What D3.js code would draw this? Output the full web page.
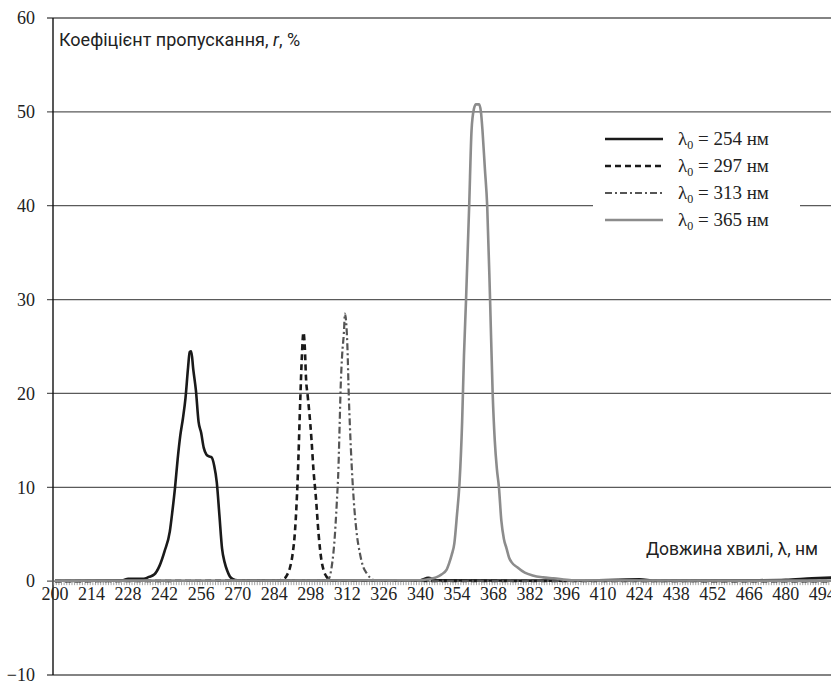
<!DOCTYPE html>
<html>
<head>
<meta charset="utf-8">
<script src="https://cdn.jsdelivr.net/npm/d3@7"></script>
<style>
  body { margin: 0; background: #fff; }
  svg { display: block; }
</style>
</head>
<body>
<div id="chart"></div>
<script>
// wavelength (nm) / transmittance (%)
var nm254 = [200, 226, 228, 234, 236, 238, 240, 242, 244, 245, 246, 247, 248, 249, 250, 251, 251.6, 252.2, 253, 254, 255, 256, 257, 258, 259, 260, 261, 262, 263, 264, 265, 266, 267, 268, 270, 340, 343, 346, 400, 424, 430, 470, 480, 490, 500];
var r254  = [0.05, 0.1, 0.25, 0.25, 0.45, 0.7, 1.6, 3.2, 5.3, 7.5, 10, 13, 15.5, 17.3, 19.5, 22.8, 24.4, 24.5, 22.5, 20.3, 17, 15.8, 14.2, 13.5, 13.3, 13.2, 12.3, 10.5, 7, 3.5, 2, 1.1, 0.5, 0.25, 0.1, 0.1, 0.35, 0.1, 0.05, 0.2, 0.05, 0.1, 0.15, 0.3, 0.4];

var nm297 = [200, 286, 288, 289, 290, 291, 292, 293, 294, 294.6, 295.2, 295.7, 296.2, 296.8, 297.5, 298.3, 299, 300, 301, 302, 303, 304, 305, 306, 500];
var r297  = [0, 0.1, 0.3, 0.7, 1.4, 2.8, 5.5, 11, 19.5, 24, 26.5, 25, 21.5, 19.8, 17.8, 15, 12, 8.8, 5, 2.4, 1.1, 0.5, 0.2, 0.05, 0];

var nm313 = [200, 304, 305, 306, 307, 308, 308.6, 309, 309.5, 310, 310.7, 311.1, 311.5, 312, 312.6, 313, 313.7, 314.5, 315.6, 316.8, 318, 319.5, 321, 323, 500];
var r313  = [0, 0.1, 0.3, 1.5, 4, 8.5, 12, 16, 21, 24, 26.5, 28.5, 27.8, 25.3, 19.5, 16.5, 12.2, 8.5, 5.1, 3, 1.6, 0.8, 0.3, 0.05, 0];

var nm365 = [200, 340, 344, 346, 348, 350, 351, 352, 353, 354, 355, 356, 356.7, 357.5, 358.7, 359.6, 360.5, 361.3, 362.5, 363.2, 363.8, 364.7, 365.6, 366.7, 367.7, 368.5, 369.3, 370.1, 371, 372, 373, 374, 375, 377, 380, 383, 387, 391, 398, 500];
var r365  = [0.05, 0.1, 0.25, 0.4, 0.7, 1.2, 1.9, 2.8, 4, 7, 10.5, 17, 24, 30, 40, 48, 50.3, 50.8, 50.8, 50, 48, 44, 40, 30, 20, 15, 12, 10, 6.5, 4.5, 3.5, 2.5, 2, 1.5, 0.9, 0.6, 0.4, 0.3, 0.1, 0.05];

var xTicks = d3.range(200, 509, 14);
var yTicks = [-10, 0, 10, 20, 30, 40, 50, 60];
var legendLabels = ["254", "297", "313", "365"];

var width = 831, height = 683;

var svg = d3.select("#chart").append("svg")
    .attr("width", width)
    .attr("height", height);

var x = d3.scaleLinear().domain([200, 494]).range([55, 822.3]);
var y = d3.scaleLinear().domain([-10, 60]).range([675, 18]);

var serif = "'Liberation Serif', 'Times New Roman', serif";
var sans = "Roboto, 'Noto Sans', sans-serif";

// horizontal grid
svg.append("g").selectAll("line")
    .data(yTicks.filter(function(d) { return d !== 0; }))
    .enter().append("line")
    .attr("x1", 47).attr("x2", width)
    .attr("y1", function(d) { return y(d); })
    .attr("y2", function(d) { return y(d); })
    .attr("stroke", "#5a5a5a")
    .attr("stroke-width", 1.3);

// y axis
svg.append("line")
    .attr("x1", 53).attr("x2", 53)
    .attr("y1", y(60)).attr("y2", y(-10))
    .attr("stroke", "#111").attr("stroke-width", 1.4);

svg.append("g").selectAll("text")
    .data(yTicks)
    .enter().append("text")
    .attr("x", 35)
    .attr("y", function(d) { return y(d); })
    .attr("dy", "0.35em")
    .attr("text-anchor", "end")
    .style("font-family", serif)
    .style("font-size", "18px")
    .attr("fill", "#222")
    .text(function(d) { return d < 0 ? "\u2212" + Math.abs(d) : d; });

// x axis (category style, tick at every nm)
svg.append("g").selectAll("line")
    .data(d3.range(200, 505))
    .enter().append("line")
    .attr("x1", function(d) { return x(d) - 1.3; })
    .attr("x2", function(d) { return x(d) - 1.3; })
    .attr("y1", y(0)).attr("y2", y(0) + 4)
    .attr("stroke", "#8a8a8a").attr("stroke-width", 0.8);

svg.append("line")
    .attr("x1", 47).attr("x2", width)
    .attr("y1", y(0)).attr("y2", y(0))
    .attr("stroke", "#5a5a5a").attr("stroke-width", 1.3);

svg.append("g").selectAll("text")
    .data(xTicks)
    .enter().append("text")
    .attr("x", function(d) { return x(d); })
    .attr("y", y(0) + 19)
    .attr("text-anchor", "middle")
    .style("font-family", serif)
    .style("font-size", "18px")
    .attr("fill", "#222")
    .text(function(d) { return d; });

// axis titles
var yt = svg.append("text")
    .attr("x", 59).attr("y", 46)
    .style("font-family", sans)
    .style("font-size", "18px")
    .attr("fill", "#222");
yt.append("tspan").text("Коефіцієнт пропускання, ");
yt.append("tspan").style("font-style", "italic").text("r");
yt.append("tspan").text(", %");

svg.append("text")
    .attr("x", 818).attr("y", 555)
    .attr("text-anchor", "end")
    .style("font-family", sans)
    .style("font-size", "17.5px")
    .attr("fill", "#222")
    .text("Довжина хвилі, λ, нм");

// series
var series = [
  { nm: nm254, r: r254, color: "#1a1a1a", width: 2.6, dash: null },
  { nm: nm297, r: r297, color: "#1a1a1a", width: 2.6, dash: "6,4" },
  { nm: nm313, r: r313, color: "#555", width: 2.2, dash: "7,3,2,3" },
  { nm: nm365, r: r365, color: "#8c8c8c", width: 2.6, dash: null }
];

var line = d3.line()
    .x(function(d) { return x(d[0]); })
    .y(function(d) { return y(d[1]); })
    .curve(d3.curveMonotoneX);

series.forEach(function(s) {
  svg.append("path")
      .datum(d3.zip(s.nm, s.r))
      .attr("d", line)
      .attr("fill", "none")
      .attr("stroke", s.color)
      .attr("stroke-width", s.width)
      .attr("stroke-dasharray", s.dash)
      .attr("stroke-linejoin", "round");
});

// legend
var legend = svg.append("g");
legend.append("rect")
    .attr("x", 593).attr("y", 124)
    .attr("width", 207).attr("height", 110)
    .attr("fill", "#fff");

series.forEach(function(s, i) {
  var cy = 139 + i * 27;
  legend.append("line")
      .attr("x1", 605).attr("x2", 663)
      .attr("y1", cy).attr("y2", cy)
      .attr("stroke", s.color)
      .attr("stroke-width", s.width)
      .attr("stroke-dasharray", s.dash);
  var t = legend.append("text")
      .attr("x", 678).attr("y", cy + 6)
      .style("font-family", serif)
      .style("font-size", "19px")
      .attr("fill", "#222");
  t.append("tspan").text("λ");
  t.append("tspan").attr("dy", 4).style("font-size", "12px").text("0");
  t.append("tspan").attr("dy", -4).text(" = " + legendLabels[i] + " нм");
});
</script>
</body>
</html>
